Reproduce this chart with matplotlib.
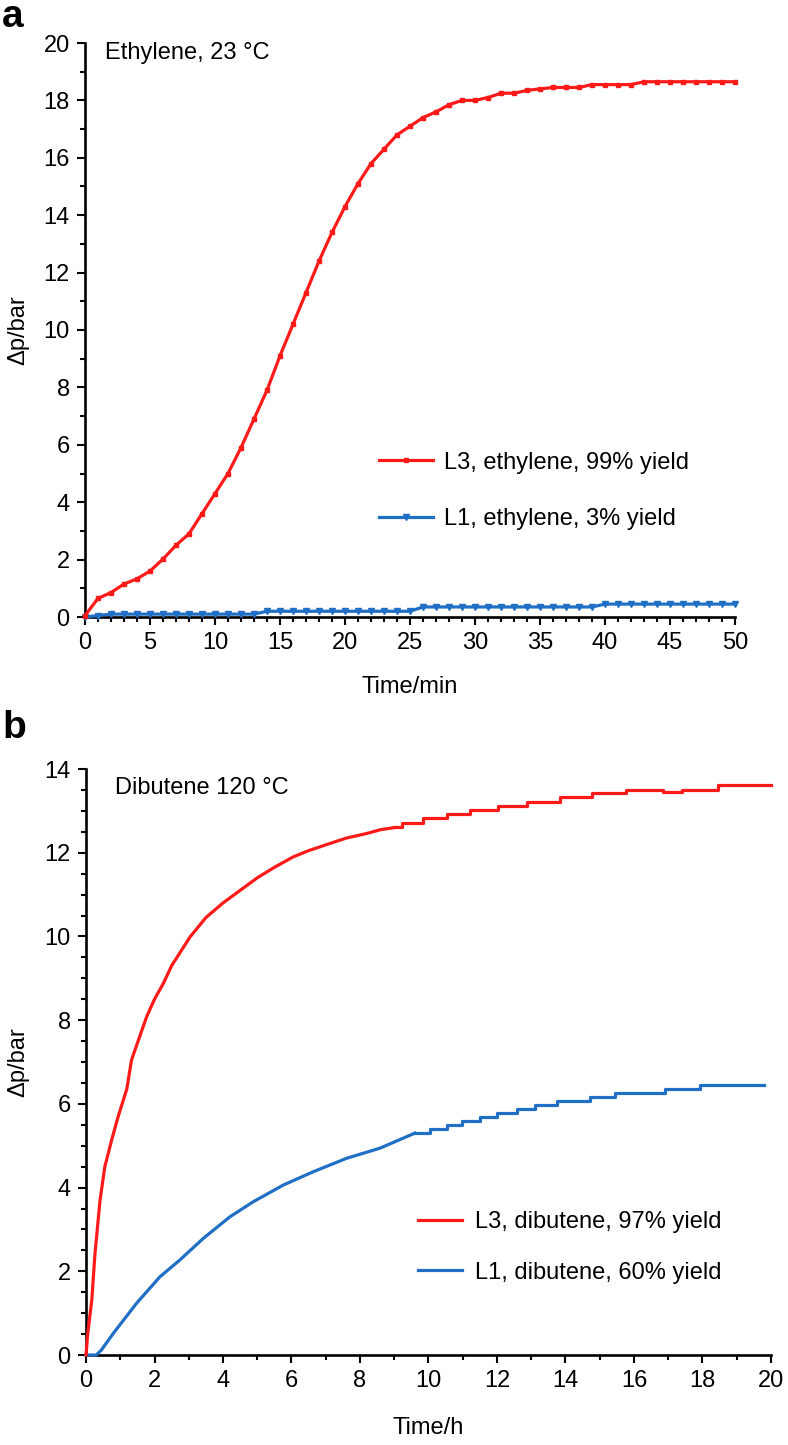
import numpy as np
import matplotlib
matplotlib.use("Agg")
import matplotlib.pyplot as plt
from matplotlib.ticker import MultipleLocator

plt.rcParams['font.family'] = ['Liberation Sans', 'DejaVu Sans']

RED = '#ff1a1a'
BLUE = '#1f6fc5'

# panel a: ethylene, one reading per minute
time_min = list(range(0, 51))
l3_ethylene = [0.05, 0.65, 0.85, 1.15, 1.33, 1.6, 2.02, 2.5, 2.9, 3.6,
               4.3, 5.0, 5.9, 6.9, 7.9, 9.1, 10.2, 11.3, 12.4, 13.4,
               14.3, 15.1, 15.8, 16.3, 16.8, 17.1, 17.4, 17.6, 17.85, 18.0,
               18.0, 18.1, 18.25, 18.25, 18.35, 18.4, 18.45, 18.45, 18.45, 18.55,
               18.55, 18.55, 18.55, 18.65, 18.65, 18.65, 18.65, 18.65, 18.65, 18.65,
               18.65]
l1_ethylene = [0.0, 0.05] + [0.1] * 12 + [0.2] * 12 + [0.35] * 14 + [0.45] * 11

# panel b: dibutene, smooth early part + stepped late part
l3_dib_t = [0, 0.05, 0.1, 0.17, 0.26, 0.41, 0.55, 0.75, 0.94, 1.19, 1.33, 1.5,
            1.77, 2.0, 2.26, 2.5, 3.04, 3.5, 4.0, 4.5, 5.0, 5.5, 6.05, 6.5,
            7.12, 7.6, 8.2, 8.6, 9.0]
l3_dib_v = [0, 0.5, 0.85, 1.32, 2.4, 3.7, 4.5, 5.14, 5.7, 6.35, 7.05, 7.45,
            8.08, 8.5, 8.88, 9.3, 9.99, 10.45, 10.8, 11.1, 11.4, 11.65, 11.9, 12.05,
            12.22, 12.35, 12.46, 12.55, 12.6]
l3_dib_step_t = [9.0, 9.22, 9.85, 10.53, 11.21, 12.04, 12.87, 13.84, 14.76,
                 15.78, 16.85, 17.4, 18.46, 20.0]
l3_dib_step_v = [12.62, 12.72, 12.82, 12.92, 13.02, 13.12, 13.22, 13.32, 13.42,
                 13.51, 13.45, 13.51, 13.62, 13.62]

l1_dib_t = [0, 0.3, 0.45, 0.8, 1.48, 2.16, 2.74, 3.43, 4.2, 4.88, 5.76, 6.64,
            7.61, 8.58, 9.6]
l1_dib_v = [0, 0, 0.12, 0.52, 1.24, 1.87, 2.27, 2.79, 3.3, 3.66, 4.06, 4.38,
            4.7, 4.94, 5.3]
l1_dib_step_t = [9.6, 10.04, 10.53, 10.97, 11.5, 11.99, 12.57, 13.11, 13.74,
                 14.71, 15.45, 16.9, 17.93, 19.8]
l1_dib_step_v = [5.3, 5.39, 5.49, 5.58, 5.68, 5.78, 5.87, 5.97, 6.06,
                 6.16, 6.25, 6.35, 6.45, 6.45]

FS = 17
W, H = 788, 1445

fig = plt.figure(figsize=(W / 100, H / 100), dpi=100)
ax1 = fig.add_axes([85 / W, 1 - 617 / H, 650 / W, 574 / H])
ax2 = fig.add_axes([86 / W, 1 - 1355 / H, 685 / W, 586 / H])


def style(ax):
    for s in ['top', 'right']:
        ax.spines[s].set_visible(False)
    for s in ['left', 'bottom']:
        ax.spines[s].set_linewidth(1.9)
    ax.tick_params(which='major', direction='out', length=6, width=1.5,
                   labelsize=FS, pad=5)
    ax.tick_params(which='minor', direction='out', length=3.8, width=1.5)


# ---- panel a
ax1.plot(time_min, l3_ethylene, color=RED, lw=2.3, marker='s', ms=3.2,
         label='L3, ethylene, 99% yield', clip_on=False, zorder=4)
ax1.plot(time_min, l1_ethylene, color=BLUE, lw=2.3, marker='v', ms=4.5,
         label='L1, ethylene, 3% yield', clip_on=False, zorder=3)
ax1.set_xlim(0, 50)
ax1.set_ylim(0, 20)
ax1.xaxis.set_major_locator(MultipleLocator(5))
ax1.xaxis.set_minor_locator(MultipleLocator(1))
ax1.yaxis.set_major_locator(MultipleLocator(2))
ax1.yaxis.set_minor_locator(MultipleLocator(1))
style(ax1)
ax1.set_xlabel('Time/min', fontsize=FS)
ax1.xaxis.set_label_coords(0.5, -0.122)
ax1.xaxis.label.set_va('center')
ax1.set_ylabel('Δp/bar', fontsize=FS)
ax1.yaxis.set_label_coords(-0.103, 0.5)
ax1.yaxis.label.set_va('center')
ax1.text(0.031, 0.982, 'Ethylene, 23 °C', transform=ax1.transAxes,
         fontsize=FS, va='center', ha='left')
ax1.legend(loc='upper left', bbox_to_anchor=(0.452, 0.288), frameon=False,
           fontsize=FS, handlelength=2.3, handletextpad=0.45, labelspacing=1.45,
           borderpad=0, borderaxespad=0, numpoints=1)
fig.text(2 / W, 1 - 17 / H, 'a', fontsize=28, fontweight='bold', va='center')

# ---- panel b
ax2.plot(l3_dib_t, l3_dib_v, color=RED, lw=2.3, label='L3, dibutene, 97% yield',
         clip_on=False, zorder=4)
ax2.plot(l3_dib_step_t, l3_dib_step_v, color=RED, lw=2.3, drawstyle='steps-post',
         clip_on=False, zorder=4)
ax2.plot(l1_dib_t, l1_dib_v, color=BLUE, lw=2.3, label='L1, dibutene, 60% yield',
         clip_on=False, zorder=3)
ax2.plot(l1_dib_step_t, l1_dib_step_v, color=BLUE, lw=2.3, drawstyle='steps-post',
         clip_on=False, zorder=3)
ax2.set_xlim(0, 20)
ax2.set_ylim(0, 14)
ax2.xaxis.set_major_locator(MultipleLocator(2))
ax2.xaxis.set_minor_locator(MultipleLocator(1))
ax2.yaxis.set_major_locator(MultipleLocator(2))
ax2.yaxis.set_minor_locator(MultipleLocator(0.5))
style(ax2)
ax2.set_xlabel('Time/h', fontsize=FS)
ax2.xaxis.set_label_coords(0.5, -0.125)
ax2.xaxis.label.set_va('center')
ax2.set_ylabel('Δp/bar', fontsize=FS)
ax2.yaxis.set_label_coords(-0.099, 0.5)
ax2.yaxis.label.set_va('center')
ax2.text(0.042, 0.968, 'Dibutene 120 °C', transform=ax2.transAxes,
         fontsize=FS, va='center', ha='left')
ax2.legend(loc='upper left', bbox_to_anchor=(0.485, 0.245), frameon=False,
           fontsize=FS, handlelength=1.85, handletextpad=0.55, labelspacing=1.2,
           borderpad=0, borderaxespad=0)
fig.text(2 / W, 1 - 728 / H, 'b', fontsize=28, fontweight='bold', va='center')

fig.savefig('out.png', dpi=100)
